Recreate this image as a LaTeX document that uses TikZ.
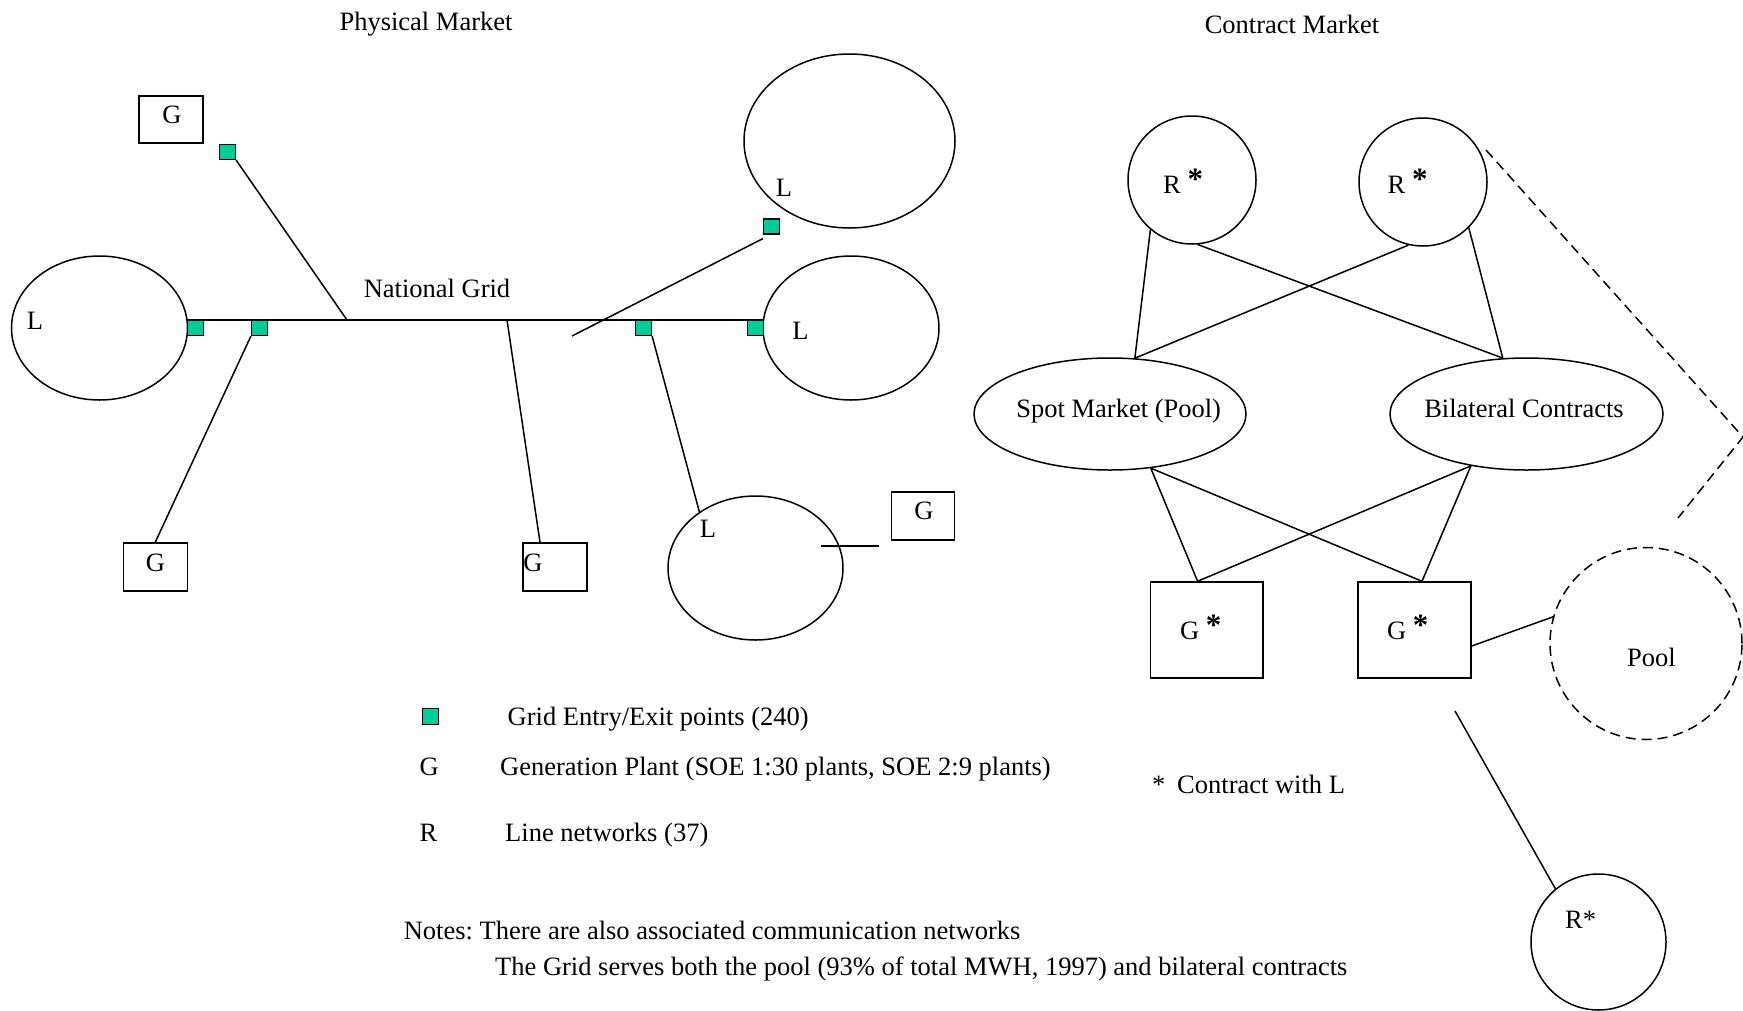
\documentclass[tikz,border=0pt]{standalone}
\usepackage{fontspec}
\setmainfont{Liberation Serif}
\usetikzlibrary{shapes.geometric}
\definecolor{gridgreen}{RGB}{0,204,153}
\newcommand{\bigast}{\raisebox{3.5pt}{\fontsize{31}{31}\selectfont\bfseries *}}
\frenchspacing
\begin{document}
\begin{tikzpicture}[x=1pt,y=-1pt,
  ln/.style={line width=1.5pt},
  ell/.style={draw, ellipse, line width=1.5pt, inner sep=0pt},
  box/.style={draw, rectangle, line width=1.5pt, inner sep=0pt},
  gsq/.style={draw, fill=gridgreen, line width=1.2pt, minimum width=16pt, minimum height=15pt, inner sep=0pt},
  txt/.style={font=\fontsize{26.5}{30}\selectfont, inner sep=0pt, anchor=base},
  txtw/.style={txt, anchor=base west},
  dsh/.style={line width=1.5pt, dash pattern=on 10pt off 6pt}]
\useasboundingbox (0,0) rectangle (1743,1010);

% ---------- titles ----------
\node[txt] (tphys) at (426,30) {Physical Market};
\node[txt] (tcont) at (1292,33) {Contract Market};

% ---------- physical market ----------
\node[ell, minimum width=176pt, minimum height=144pt] (Lleft) at (99.5,328) {};
\node[ell, minimum width=211pt, minimum height=174pt] (Ltop) at (849.5,141) {};
\node[ell, minimum width=176pt, minimum height=144pt] (Lmid) at (851,328) {};
\node[ell, minimum width=175pt, minimum height=144pt] (Lbot) at (755.5,568) {};

\node[box, minimum width=64pt, minimum height=47pt] (Gtop) at (171,119.5) {};
\node[box, minimum width=64pt, minimum height=48pt] (Gleft) at (155.25,567) {};
\node[box, minimum width=64pt, minimum height=48pt] (Gmid) at (555,567) {};
\node[box, minimum width=63pt, minimum height=48pt] (Gright) at (923,516) {};

\node[txt] (lLleft) at (35,329) {L};
\node[txt] (lLtop) at (784,196) {L};
\node[txt] (lLmid) at (800.5,339) {L};
\node[txt] (lLbot) at (708,537) {L};
\node[txt] (lGtop) at (172,123) {G};
\node[txt] (lGleft) at (155.5,571) {G};
\node[txt] (lGmid) at (533,571) {G};
\node[txt] (lGright) at (924,519) {G};
\node[txt] (lgrid) at (437,297) {National Grid};

% grid entry/exit squares
\node[gsq] (sqTop) at (227.5,152) {};
\node[gsq] (sqA) at (195.75,328) {};
\node[gsq] (sqB) at (259.5,328) {};
\node[gsq] (sqC) at (643.5,328) {};
\node[gsq] (sqD) at (755.5,328) {};
\node[gsq] (sqE) at (771.5,226.5) {};

\coordinate (gridA) at (347,320);
\coordinate (gridB) at (507,320);
\coordinate (diagS) at (572,336);
\coordinate (stubA) at (821,546);
\coordinate (stubB) at (879,546);

\draw[ln] (sqA.north west) -- (sqD.north east);
\draw[ln] (sqTop.south east) -- (gridA);
\draw[ln] (sqB.south west) -- (Gleft.north);
\draw[ln] (gridB) -- ([xshift=-15pt]Gmid.north);
\draw[ln] (diagS) -- ([yshift=-4pt]sqE.south west);
\draw[ln] (sqC.south east) -- (Lbot.135);
\draw[ln] (stubA) -- (stubB);
% redraw squares on top of lines
\node[gsq] at (sqTop) {};
\node[gsq] at (sqA) {};
\node[gsq] at (sqB) {};
\node[gsq] at (sqC) {};
\node[gsq] at (sqD) {};
\node[gsq] at (sqE) {};

% ---------- legend ----------
\node[gsq, minimum width=16pt, minimum height=16pt] (legsq) at (430.5,716.5) {};
\node[txtw] (leg1) at (507.5,725) {Grid Entry/Exit points (240)};
\node[txtw] (legG) at (419.5,775) {G};
\node[txtw] (leg2) at (500,775) {Generation Plant (SOE 1:30 plants, SOE 2:9 plants)};
\node[txtw] (legR) at (419.5,841) {R};
\node[txtw] (leg3) at (505,841) {Line networks (37)};
\node[txtw] (note1) at (403.6,939) {Notes: There are also associated communication networks};
\node[txtw] (note2) at (495,975) {The Grid serves both the pool (93\% of total MWH, 1997) and bilateral contracts};
\node[txtw] (ast) at (1152,793) {*};
\node[txtw] (legL) at (1177,793) {Contract with L};

% ---------- contract market ----------
\node[ell, minimum width=128pt, minimum height=128pt] (R1) at (1192,180) {};
\node[ell, minimum width=128pt, minimum height=128pt] (R2) at (1423,182) {};
\node[ell, minimum width=272pt, minimum height=112pt] (spot) at (1110,414) {};
\node[ell, minimum width=273pt, minimum height=112pt] (bil) at (1526.5,414) {};
\node[box, minimum width=112.5pt, minimum height=96pt] (G1) at (1206.6,630) {};
\node[box, minimum width=113pt, minimum height=96pt] (G2) at (1414.5,630) {};
\node[ell, dsh, minimum width=192pt, minimum height=192pt] (pool) at (1646,643.5) {};
\node[ell, minimum width=135pt, minimum height=136pt] (R3) at (1598.5,942) {};

\node[txtw] (lR1) at (1163,193) {R \bigast};
\node[txtw] (lR2) at (1387.5,193) {R \bigast};
\node[txt] (lspot) at (1118.7,417) {Spot Market (Pool)};
\node[txt] (lbil) at (1524,417) {Bilateral Contracts};
\node[txtw] (lG1) at (1180,639) {G \bigast};
\node[txtw] (lG2) at (1387,639) {G \bigast};
\node[txt] (lpool) at (1651.5,666) {Pool};
\node[txtw] (lR3) at (1565,928) {R*};

\draw[ln] (R1.230) -- (spot.66);
\draw[ln] (R1.275) -- (bil.113);
\draw[ln] (R2.257) -- (spot.66);
\draw[ln] (R2.315) -- (bil.113);
\draw[ln] (spot.307) -- ([xshift=-9pt]G1.north);
\draw[ln] (spot.307) -- ([xshift=7.5pt]G2.north);
\draw[ln] (bil.223) -- ([xshift=-9pt]G1.north);
\draw[ln] (bil.223) -- ([xshift=7.5pt]G2.north);
\draw[ln] ([yshift=-16pt]G2.east) -- (pool.164.5);

\coordinate (rline) at (1455,711);
\draw[ln] (rline) -- (R3.129);

\coordinate (dA) at (1486,150);
\coordinate (dB) at (1743,437);
\coordinate (dC) at (1678,518);
\draw[dsh] (dA) -- (dB) -- (dC);
\end{tikzpicture}
\end{document}
